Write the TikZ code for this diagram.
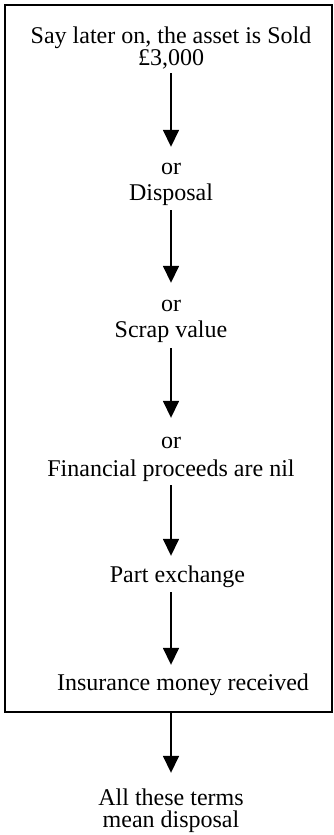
\documentclass[tikz,border=0pt]{standalone}
\usepackage{fontspec}
\setmainfont{Liberation Serif}
\usetikzlibrary{arrows.meta}
\begin{document}
\begin{tikzpicture}[x=1pt,y=-1pt,
  lbl/.style={inner sep=0pt, align=center, anchor=base, font=\fontsize{24}{24}\selectfont},
  arr/.style={line width=1.6pt, -{Triangle[width=16pt,length=17pt]}},
  frame/.style={draw, line width=1.8pt, inner sep=0pt}]
\useasboundingbox (0,0) rectangle (333,835);
\node[frame, minimum width=327pt, minimum height=707pt] (box) at (168.5,358.5) {};
\node[lbl, text depth=8pt, font=\fontsize{24}{22}\selectfont] (t0) at (171,65) {Say later on, the asset is Sold\\£3,000};
\node[lbl, text height=53pt, text depth=10pt, font=\fontsize{24}{26}\selectfont] (t1) at (171,200) {or\\Disposal};
\node[lbl, text height=54pt, text depth=11pt, font=\fontsize{24}{26}\selectfont] (t2) at (171,337) {or\\Scrap value};
\node[lbl, text height=58pt, text depth=9pt, font=\fontsize{24}{28}\selectfont] (t3) at (171,476) {or\\Financial proceeds are nil};
\node[lbl, text height=26pt, text depth=10pt] (t4) at (177.5,582) {Part exchange};
\node[lbl, text height=25pt, text depth=0pt] (t5) at (183,690) {Insurance money received};
\node[lbl, text height=54pt, text depth=0pt, font=\fontsize{24}{22}\selectfont] (t6) at (171,827) {All these terms\\mean disposal};
\draw[arr] (t0.south) -- (t1.north);
\draw[arr] (t1.south) -- (t2.north);
\draw[arr] (t2.south) -- (t3.north);
\draw[arr] (t3.south) -- (t3.south |- t4.north);
\draw[arr] (t3.south |- t4.south) -- (t3.south |- t5.north);
\draw[arr] (t6.north |- box.south) -- (t6.north);
\end{tikzpicture}
\end{document}
